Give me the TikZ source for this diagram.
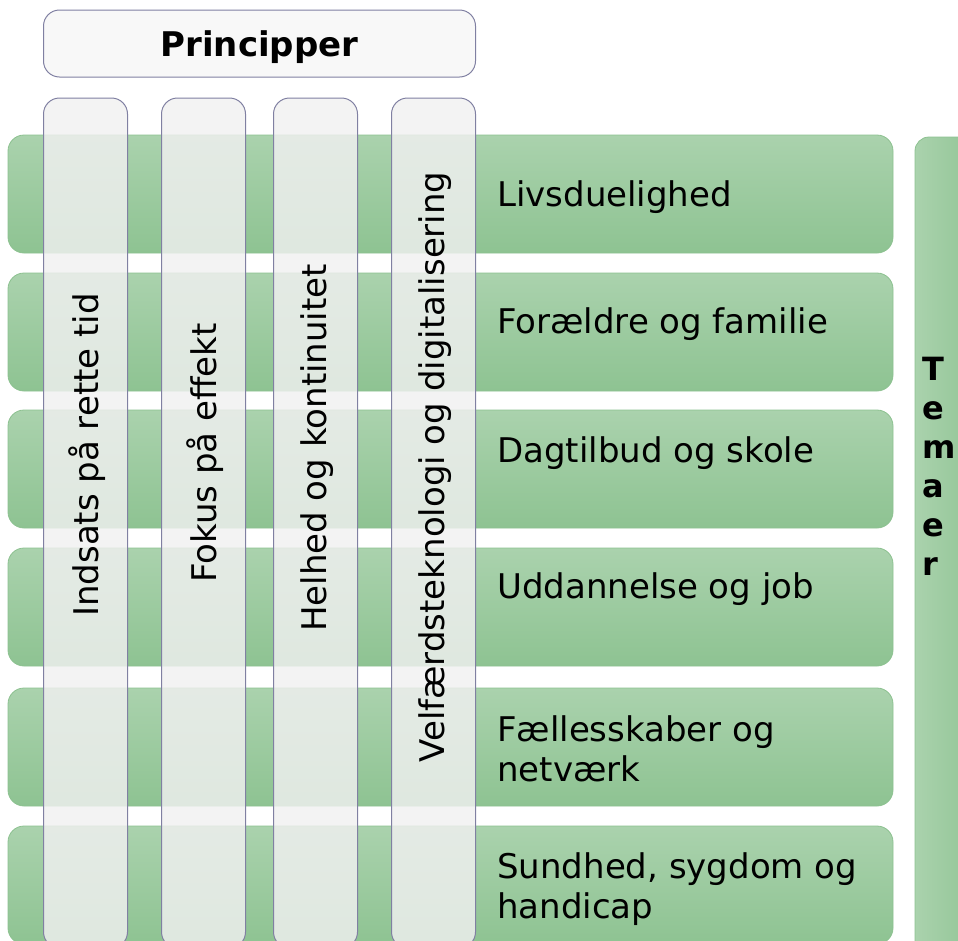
\documentclass[tikz,border=0pt]{standalone}
\usepackage{fontspec}
\setmainfont{DejaVu Sans}
\usetikzlibrary{positioning}

\definecolor{bandtop}{HTML}{AAD2AD}
\definecolor{bandbot}{HTML}{8EC392}
\definecolor{bandline}{HTML}{8CC190}
\definecolor{pillarfill}{HTML}{F0F0F0}
\definecolor{pillarline}{HTML}{8080A2}
\definecolor{headfill}{HTML}{F8F8F8}

\tikzset{
  band/.style={rectangle, rounded corners=16pt, minimum width=885pt, minimum height=118pt,
    top color=bandtop, bottom color=bandbot, draw=bandline, line width=0.8pt, inner sep=0pt},
  pillar/.style={rectangle, rounded corners=16pt, minimum width=84pt, minimum height=850pt,
    fill=pillarfill, fill opacity=0.83, draw=pillarline, line width=1pt, inner sep=0pt},
  bandtext/.style={anchor=west, align=left, font=\fontsize{34}{40}\selectfont, inner sep=0pt},
  pillartext/.style={rotate=90, font=\fontsize{34}{40}\selectfont, inner sep=0pt}
}

\begin{document}
\begin{tikzpicture}[x=1pt, y=-1pt] % one unit is one pixel of the reference
            \useasboundingbox (0,0) rectangle (958,940);
            \clip (0,0) rectangle (958,940);

            % Header box
            \node[rectangle, rounded corners=16pt, minimum width=432pt, minimum height=67pt,
              fill=headfill, draw=pillarline, line width=1pt, text depth=0pt,
              font=\fontsize{34}{40}\selectfont\bfseries] (head) at (259.5,43.5) {Principper};

            % Green theme bands
            \node[band] (b1) at (450.5,194) {};
            \node[band] (b2) at (450.5,332) {};
            \node[band] (b3) at (450.5,469) {};
            \node[band] (b4) at (450.5,607) {};
            \node[band] (b5) at (450.5,747) {};
            \node[band] (b6) at (450.5,885) {};

            % Theme labels
            \node[bandtext] (l1) at (497,197) {Livsduelighed};
            \node[bandtext] (l2) at (497,324) {Forældre og familie};
            \node[bandtext] (l3) at (497,453) {Dagtilbud og skole};
            \node[bandtext] (l4) at (497,589) {Uddannelse og job};
            \node[bandtext] (l5) at (497,749) {Fællesskaber og\\netværk};
            \node[bandtext] (l6) at (497,889) {Sundhed, sygdom og\\handicap};

            % Principle pillars on top of the bands
            \node[pillar] (p1) at (85.5,523) {};
            \node[pillar] (p2) at (203.5,523) {};
            \node[pillar] (p3) at (315.5,523) {};
            \node[pillar] (p4) at (433.5,523) {};

            \node[pillartext] (q1) at (87,455) {Indsats på rette tid};
            \node[pillartext] (q2) at (205,453) {Fokus på effekt};
            \node[pillartext] (q3) at (317,448) {Helhed og kontinuitet};
            \node[pillartext] (q4) at (435,467) {Velfærdsteknologi og digitalisering};

            % Side bar
            \node[rectangle, rounded corners=14pt, minimum width=70pt, minimum height=820pt,
              left color=bandtop, right color=bandbot, draw=bandline, line width=0.8pt] (side) at (950,547) {};
            \node[anchor=north west, align=left, inner sep=0pt,
              font=\fontsize{32}{39}\selectfont\bfseries] (temaer) at (922,357) {T\\e\\m\\a\\e\\r};
        \end{tikzpicture}
\end{document}
